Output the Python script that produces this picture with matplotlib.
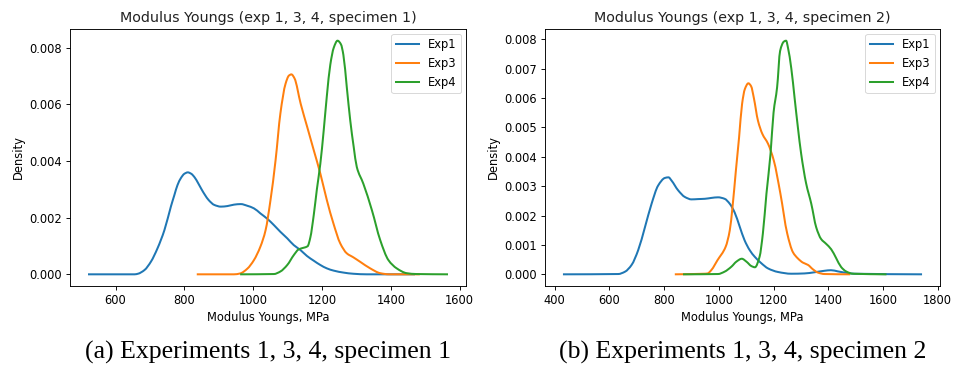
import matplotlib
matplotlib.use("Agg")
import numpy as np
import matplotlib.pyplot as plt
from matplotlib.path import Path
from matplotlib.patches import PathPatch
from matplotlib.lines import Line2D

# Kernel density curves of Young's modulus (MPa), sampled along each curve
# ---- specimen 1 ----
s1_exp1_x = [520, 655, 665, 684, 703, 722, 742, 761, 771, 780, 790, 800, 810, 820,
             830, 840, 850, 860, 870, 887, 906, 925, 944, 964, 983, 1002, 1021, 1041,
             1060, 1079, 1099, 1118, 1137, 1156, 1176, 1195, 1214, 1234, 1263, 1291,
             1330, 1470]
s1_exp1_y = [0.0, 0.0, 0.00002, 0.00015, 0.00045, 0.00092, 0.00156, 0.0024, 0.0028,
             0.00315, 0.0034, 0.00355, 0.0036, 0.00355, 0.00342, 0.00322, 0.003,
             0.0028, 0.00263, 0.00245, 0.00239, 0.00241, 0.00246, 0.00248, 0.00242,
             0.00233, 0.00215, 0.00196, 0.00174, 0.0015, 0.00127, 0.00103, 0.00086,
             0.00065, 0.00048, 0.00033, 0.00021, 0.00013, 0.00006, 0.00002, 0.0, 0.0]

s1_exp3_x = [836, 944, 962, 983, 1002, 1021, 1036, 1050, 1065, 1079, 1094, 1104, 1111,
             1120, 1138, 1157, 1176, 1195, 1214, 1233, 1253, 1272, 1291, 1311, 1340,
             1369, 1395, 1484]
s1_exp3_y = [0.0, 0.0, 0.00003, 0.0002, 0.0005, 0.00098, 0.00156, 0.0026, 0.00403,
             0.00568, 0.00673, 0.00702, 0.00706, 0.00692, 0.00602, 0.0052, 0.00438,
             0.00356, 0.00262, 0.0018, 0.00109, 0.00074, 0.0006, 0.00044, 0.00021,
             0.00004, 0.0, 0.0]

s1_exp4_x = [962, 1060, 1079, 1099, 1118, 1132, 1147, 1158, 1166, 1176, 1185, 1195,
             1205, 1214, 1224, 1234, 1245, 1255, 1262, 1272, 1282, 1292, 1301, 1320,
             1345, 1369, 1393, 1417, 1446, 1474, 1566]
s1_exp4_y = [0.0, 0.00001, 0.0001, 0.00033, 0.00068, 0.00088, 0.00094, 0.00099,
             0.0013, 0.0021, 0.003, 0.0039, 0.0051, 0.0063, 0.0074, 0.008, 0.00825,
             0.00812, 0.00775, 0.0066, 0.00543, 0.0045, 0.00379, 0.0032, 0.00226,
             0.00121, 0.0005, 0.00021, 0.00004, 0.00001, 0.0]

# ---- specimen 2 ----
s2_exp1_x = [430, 632, 657, 681, 705, 730, 754, 778, 803, 816, 827, 851, 876, 900,
             924, 949, 973, 997, 1021, 1040, 1058, 1076, 1094, 1113, 1131, 1155, 1180,
             1216, 1265, 1313, 1350, 1386, 1410, 1435, 1459, 1496, 1743]
s2_exp1_y = [0.0, 0.00001, 0.00009, 0.00032, 0.00082, 0.00161, 0.0024, 0.00302,
             0.00328, 0.0033, 0.00319, 0.00286, 0.00263, 0.00255, 0.00256, 0.00257,
             0.0026, 0.00262, 0.00257, 0.0024, 0.0021, 0.00163, 0.00116, 0.00082,
             0.0006, 0.00038, 0.0002, 0.00008, 0.00002, 0.00003, 0.00007, 0.00012,
             0.00014, 0.0001, 0.00006, 0.00002, 0.0]

s2_exp3_x = [839, 948, 959, 973, 995, 1025, 1040, 1050, 1062, 1074, 1085, 1095, 1108,
             1118, 1128, 1143, 1159, 1180, 1201, 1225, 1250, 1271, 1289, 1307, 1326,
             1344, 1362, 1386, 1480]
s2_exp3_y = [0.0, 0.00002, 0.00003, 0.00015, 0.00048, 0.00094, 0.0015, 0.00229,
             0.0035, 0.00466, 0.0058, 0.0063, 0.0065, 0.0064, 0.006, 0.00523, 0.00478,
             0.00444, 0.00387, 0.00275, 0.00139, 0.00075, 0.00054, 0.0004, 0.00032,
             0.00017, 0.00006, 0.00001, 0.0]

s2_exp4_x = [869, 997, 1021, 1046, 1064, 1084, 1101, 1119, 1132, 1149, 1161, 1174,
             1189, 1200, 1213, 1224, 1238, 1246, 1253, 1265, 1277, 1289, 1301, 1319,
             1338, 1356, 1374, 1392, 1411, 1429, 1447, 1465, 1490, 1613]
s2_exp4_y = [0.0, 0.00001, 0.00009, 0.00026, 0.00043, 0.00053, 0.00043, 0.00028,
             0.00024, 0.0006, 0.00139, 0.00274, 0.0041, 0.0055, 0.00636, 0.0076,
             0.00792, 0.00795, 0.0077, 0.007, 0.006, 0.005, 0.0041, 0.0031, 0.0024,
             0.0016, 0.0012, 0.00104, 0.00085, 0.00055, 0.00025, 0.0001, 0.00002, 0.0]

series_names = ["Exp1", "Exp3", "Exp4"]
colors = ["#1f77b4", "#ff7f0e", "#2ca02c"]

titles = ["Modulus Youngs (exp 1, 3, 4, specimen 1)",
          "Modulus Youngs (exp 1, 3, 4, specimen 2)"]
captions = ["(a) Experiments 1, 3, 4, specimen 1",
            "(b) Experiments 1, 3, 4, specimen 2"]
x_label = "Modulus Youngs, MPa"
y_label = "Density"

s1_xticks = [600, 800, 1000, 1200, 1400, 1600]
s1_yticks = [0.000, 0.002, 0.004, 0.006, 0.008]
s2_xticks = [400, 600, 800, 1000, 1200, 1400, 1600, 1800]
s2_yticks = [0.000, 0.001, 0.002, 0.003, 0.004, 0.005, 0.006, 0.007, 0.008]

panels = [
    ([(s1_exp1_x, s1_exp1_y), (s1_exp3_x, s1_exp3_y), (s1_exp4_x, s1_exp4_y)],
     s1_xticks, s1_yticks),
    ([(s2_exp1_x, s2_exp1_y), (s2_exp3_x, s2_exp3_y), (s2_exp4_x, s2_exp4_y)],
     s2_xticks, s2_yticks),
]


def smooth_path(xs, ys):
    """Bezier path through the sampled points, with monotone (Fritsch-Carlson)
    tangents so the curve never overshoots between samples."""
    x = np.asarray(xs, float)
    y = np.asarray(ys, float)
    h = np.diff(x)
    d = np.diff(y) / h
    m = np.zeros_like(y)
    for k in range(1, len(x) - 1):
        if d[k - 1] * d[k] > 0:
            w1 = 2 * h[k] + h[k - 1]
            w2 = h[k] + 2 * h[k - 1]
            m[k] = (w1 + w2) / (w1 / d[k - 1] + w2 / d[k])
    m[0] = d[0]
    m[-1] = d[-1]
    verts = [(x[0], y[0])]
    codes = [Path.MOVETO]
    for k in range(len(x) - 1):
        verts += [(x[k] + h[k] / 3, y[k] + m[k] * h[k] / 3),
                  (x[k + 1] - h[k] / 3, y[k + 1] - m[k + 1] * h[k] / 3),
                  (x[k + 1], y[k + 1])]
        codes += [Path.CURVE4] * 3
    return Path(verts, codes)


W, H = 956, 371
fig = plt.figure(figsize=(W / 100, H / 100), dpi=100)
fig.patch.set_facecolor("white")

boxes = [(70, 29, 466, 286), (545, 29, 940, 286)]
small = 8.3
lw = 1.45

for i, (curves, xt, yt) in enumerate(panels):
    l, t, r, b = boxes[i]
    ax = fig.add_axes([l / W, 1 - b / H, (r - l) / W, (b - t) / H])
    handles = []
    for (xs, ys), name, c in zip(curves, series_names, colors):
        ax.add_patch(PathPatch(smooth_path(xs, ys), facecolor="none",
                               edgecolor=c, lw=lw, capstyle="butt",
                               joinstyle="round"))
        # invisible line keeps autoscaling tied to the sampled values
        ax.plot(xs, ys, alpha=0)
        handles.append(Line2D([], [], color=c, lw=lw, label=name))
    ax.set_xticks(xt)
    ax.set_xticklabels([str(v) for v in xt])
    ax.set_yticks(yt)
    ax.set_yticklabels([f"{v:.3f}" for v in yt])
    ax.tick_params(labelsize=small, length=2.9, width=0.66, pad=2.9)
    for sp in ax.spines.values():
        sp.set_linewidth(0.66)
    ax.set_title(titles[i], fontsize=10.3, pad=5, color="#222222")
    ax.set_xlabel(x_label, fontsize=small, labelpad=2.5)
    ax.set_ylabel(y_label, fontsize=small, labelpad=3)
    leg = ax.legend(handles=handles, loc="upper right", fontsize=small,
                    framealpha=0.8, borderaxespad=0.4)
    leg.get_frame().set_linewidth(0.66)
    fig.text((l + r) / 2 / W, 1 - 352 / H, captions[i], ha="center", va="center",
             fontsize=18.5, family="Liberation Serif")

fig.savefig("out.png", dpi=100)
